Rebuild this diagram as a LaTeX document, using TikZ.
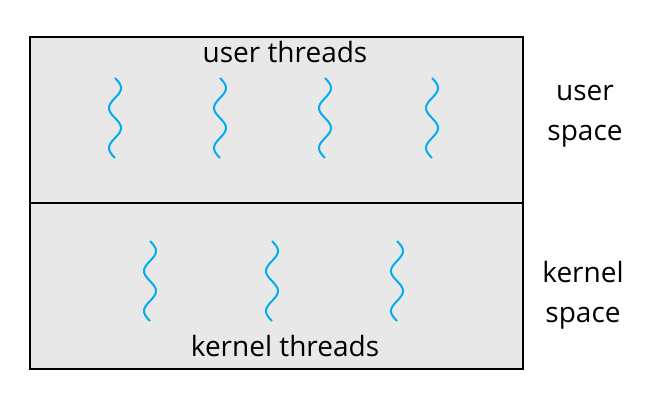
\documentclass[tikz,border=0pt]{standalone}
\usepackage{fontspec}
\setmainfont{Open Sans}
\begin{document}
\begin{tikzpicture}[x=1pt,y=-1pt,
  thr/.style={draw={rgb,255:red,0;green,174;blue,239},line width=2pt},
  lbl/.style={font=\fontsize{28}{40}\selectfont,inner sep=0pt},
  box/.style={draw,fill=black!9,line width=1.5pt,minimum width=493pt,minimum height=166pt,anchor=north west,inner sep=0}]
\useasboundingbox (0,0) rectangle (655,405);
\node[box] (u) at (29,36) {};
\node[box] (k) at (29,202) {};
\node[lbl] (ut) at (285,52) {user threads};
\node[lbl] (kt) at (285,346) {kernel threads};
\node[lbl,align=center] (us) at (585,116) {user\\space};
\node[lbl,align=center] (ks) at (583,295) {kernel\\space};
\foreach \cx in {115,220,325,432}
  \draw[thr] plot[variable=\t,domain=0:80,samples=60,smooth] ({\cx+6*sin(9*\t)},{78+\t});
\foreach \cx in {150,272,397}
  \draw[thr] plot[variable=\t,domain=0:80,samples=60,smooth] ({\cx+6*sin(9*\t)},{241+\t});
\end{tikzpicture}
\end{document}
